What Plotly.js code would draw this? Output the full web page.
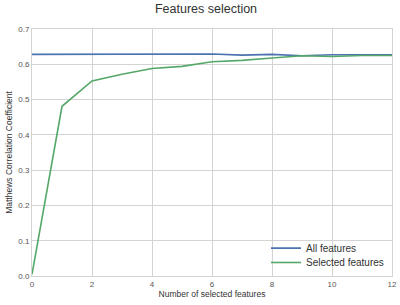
<!DOCTYPE html>
<html>
<head>
<meta charset="utf-8">
<script src="https://cdn.plot.ly/plotly-3.0.1.min.js"></script>
<style>html,body{margin:0;padding:0;background:#fff}#chart{width:400px;height:305px}</style>
</head>
<body>
<div id="chart"></div>
<script>
// Number of features used by the classifier
const nFeatures = [0, 1, 2, 3, 4, 5, 6, 7, 8, 9, 10, 11, 12];
// MCC when training on all features
const allFeatures = [0.628, 0.628, 0.628, 0.627, 0.627, 0.628, 0.629, 0.626, 0.628, 0.624, 0.627, 0.627, 0.627];
// MCC when training on the selected subset only
const selectedFeatures = [0.005, 0.481, 0.553, 0.572, 0.588, 0.594, 0.607, 0.611, 0.618, 0.624, 0.622, 0.625, 0.625];

const font = 'Liberation Sans, Arial, sans-serif';

const traces = [
  {x: nFeatures, y: allFeatures, name: 'All features', mode: 'lines', legend: 'legend',
   line: {color: '#4C72B0', width: 1.6}},
  {x: nFeatures, y: selectedFeatures, name: 'Selected features', mode: 'lines', legend: 'legend2',
   line: {color: '#55A868', width: 1.6}}
];

const axisStyle = {
  showgrid: true, gridcolor: '#d3d3d3', gridwidth: 1,
  showline: true, linecolor: '#d3d3d3', linewidth: 1, mirror: true,
  zeroline: false, ticks: '',
  tickfont: {family: font, size: 8, color: '#555'}
};

// one legend per entry so the rows can sit closer together
const legendStyle = {
  xanchor: 'left', yanchor: 'bottom',
  bgcolor: 'rgba(255,255,255,0)', borderwidth: 0,
  font: {family: font, size: 10, color: '#333'}
};

const layout = {
  width: 400, height: 305,
  margin: {l: 32, r: 8, t: 29, b: 29},
  paper_bgcolor: '#fff', plot_bgcolor: '#fff',
  title: {text: 'Features selection', x: 0.515, xanchor: 'center', y: 0.972, yanchor: 'middle',
          font: {family: font, size: 12.5, color: '#333'}},
  xaxis: Object.assign({}, axisStyle, {
    range: [0, 12], tickvals: [0, 2, 4, 6, 8, 10, 12],
    title: {text: 'Number of selected features', standoff: 2,
            font: {family: font, size: 8.5, color: '#333'}}
  }),
  yaxis: Object.assign({}, axisStyle, {
    range: [0, 0.7], tickvals: [0, 0.1, 0.2, 0.3, 0.4, 0.5, 0.6, 0.7],
    ticktext: ['0.0', '0.1', '0.2', '0.3', '0.4', '0.5', '0.6', '0.7'],
    title: {text: 'Matthews Correlation Coefficient', standoff: 4,
            font: {family: font, size: 8.5, color: '#333'}}
  }),
  showlegend: true,
  legend: Object.assign({}, legendStyle, {x: 0.65, y: 0.054}),
  legend2: Object.assign({}, legendStyle, {x: 0.65, y: -0.004})
};

Plotly.newPlot('chart', traces, layout, {staticPlot: true, displayModeBar: false});
</script>
</body>
</html>
